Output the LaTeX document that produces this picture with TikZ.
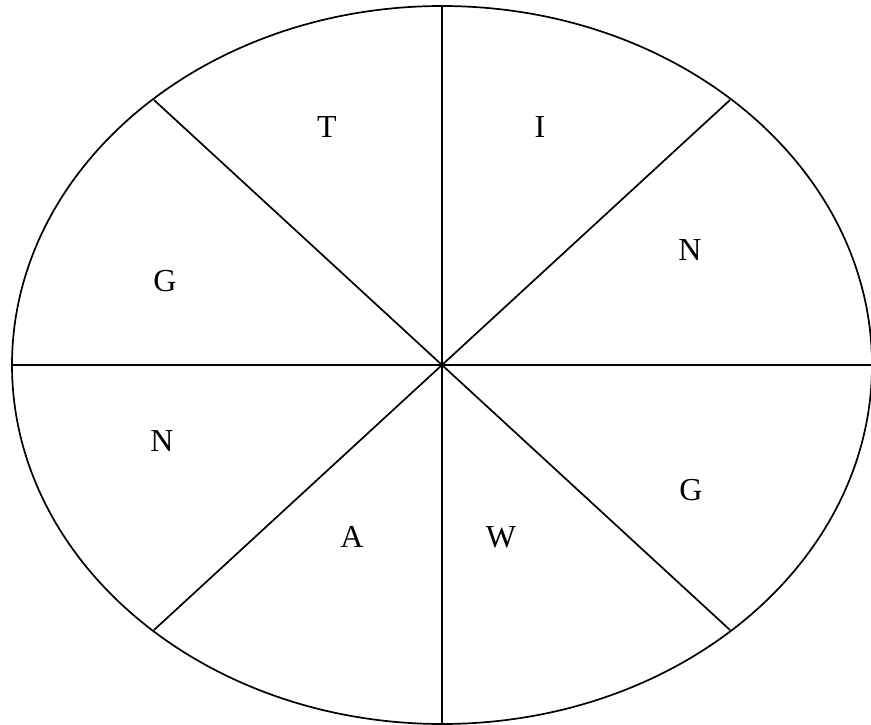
\documentclass[tikz,border=0pt]{standalone}
\usepackage{fontspec}
\setmainfont{Liberation Serif}
\usetikzlibrary{calc}
\begin{document}
\begin{tikzpicture}[x=1pt,y=-1pt,
  rim/.style={line width=1.7pt},
  spoke/.style={line width=1.7pt},
  letter/.style={font=\fontsize{32}{32}\selectfont, inner sep=0pt}]
\useasboundingbox (0,0) rectangle (871,725);
\begin{scope}
\clip (0,0) rectangle (871,725);
\coordinate (c) at (442,365);
\draw[rim] (c) ellipse [x radius=430, y radius=359];
\coordinate (top) at (442,6);
\coordinate (bot) at (442,725);
\coordinate (lft) at (12,365);
\coordinate (rgt) at (872,365);
\coordinate (ul) at ($(c)+(-288,-265)$);
\coordinate (ur) at ($(c)+(288,-265)$);
\coordinate (ll) at ($(c)+(-288,265)$);
\coordinate (lr) at ($(c)+(288,265)$);
\draw[spoke] (top) -- (bot);
\draw[spoke] (lft) -- (rgt);
\draw[spoke] (ul) -- (lr);
\draw[spoke] (ur) -- (ll);
\end{scope}
\node[letter] (t) at (327,127) {T};
\node[letter] (i) at (540,127) {I};
\node[letter] (n1) at (690,250) {N};
\node[letter] (g1) at (165,281) {G};
\node[letter] (n2) at (162,441) {N};
\node[letter] (g2) at (691,490) {G};
\node[letter] (a) at (352,537) {A};
\node[letter] (w) at (501,537) {W};
\end{tikzpicture}
\end{document}
